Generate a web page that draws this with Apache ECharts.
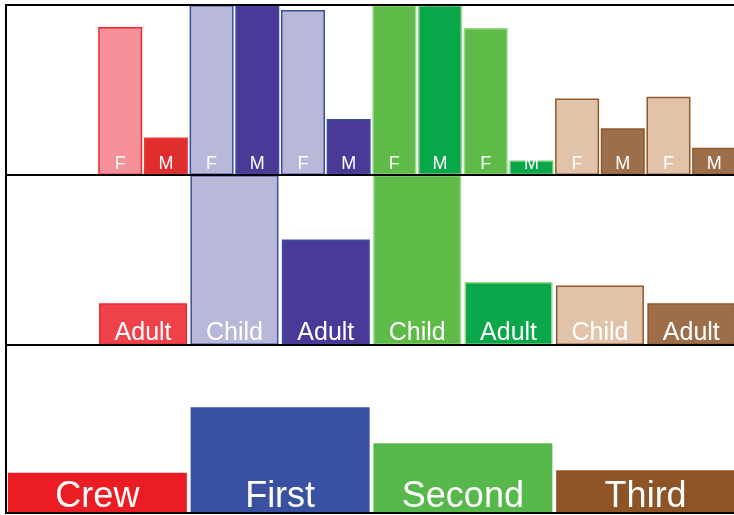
<!DOCTYPE html>
<html>
<head>
<meta charset="utf-8">
<script src="https://cdn.jsdelivr.net/npm/echarts@6/dist/echarts.min.js"></script>
<style>html,body{margin:0;padding:0;background:#fff;overflow:hidden}#c{width:740px;height:515px}</style>
</head>
<body>
<div id="c"></div>
<script>
// Level 3: class x age x sex
const sexCats = ['Crew Child F','Crew Child M','Crew Adult F','Crew Adult M',
  'First Child F','First Child M','First Adult F','First Adult M',
  'Second Child F','Second Child M','Second Adult F','Second Adult M',
  'Third Child F','Third Child M','Third Adult F','Third Adult M'];
const sexLabels = ['F','M','F','M','F','M','F','M','F','M','F','M','F','M','F','M'];
const sexValues = [null,null,0.87,0.22, 1.0,1.0,0.97,0.33, 1.0,1.0,0.865,0.085, 0.45,0.275,0.46,0.16];

// Level 2: class x age
const ageCats = ['Crew Child','Crew Adult','First Child','First Adult','Second Child','Second Adult','Third Child','Third Adult'];
const ageLabels = ['Child','Adult','Child','Adult','Child','Adult','Child','Adult'];
const ageValues = [null,0.245, 1.0,0.62, 1.0,0.37, 0.35,0.245];

// Level 1: class
const classCats = ['Crew','First','Second','Third'];
const classValues = [0.24,0.63,0.415,0.255];

// styles
const sexFill = ['#f59199','#e02e2e','#f59199','#e02e2e',
  '#bab8d9','#4a3996','#bab8d9','#4a3996',
  '#5fbb48','#0aa64a','#5fbb48','#0aa64a',
  '#e0c3a8','#9d6e4a','#e0c3a8','#9d6e4a'];
const sexBorder = ['#ee2a33','#ee2a33','#ee2a33','#ee3a3a',
  '#3a4fa0','#3a4fa0','#3a4fa0','#3a4fa0',
  '#9ad68c','#9ad68c','#9ad68c','#6ccf6c',
  '#93582a','#93582a','#93582a','#93582a'];
const ageFill = ['#f0424a','#f0424a','#bab8d9','#4a3996','#5fbb48','#0aa64a','#e0c3a8','#9d6e4a'];
const ageBorder = ['#ee2a33','#ee2a33','#3a4fa0','#3a4fa0','#9ad68c','#9ad68c','#93582a','#93582a'];
const classFill = ['#ec1c24','#3a51a2','#56b84a','#8f5426'];

const chart = echarts.init(document.getElementById('c'));
const FONT = '"Liberation Sans", Arial, sans-serif';

function mk(values, labels, fill, border) {
  return values.map((v, i) => ({
    value: v,
    name: labels[i],
    itemStyle: { color: fill[i], borderColor: border ? border[i] : fill[i], borderWidth: border ? 1.5 : 0 }
  }));
}

const grids = [
  { left: 6, width: 731, top: 5, height: 170, outerBoundsMode: 'none' },
  { left: 6, width: 731, top: 175, height: 170, outerBoundsMode: 'none' },
  { left: 6, width: 731, top: 345, height: 168, outerBoundsMode: 'none' }
];
const axisLine = { show: true, lineStyle: { color: '#000', width: 2 } };
const cats = [sexCats, ageCats, classCats];

const xAxis = cats.map((c, i) => ({
  type: 'category', gridIndex: i, data: c, z: 10,
  axisLine: axisLine, axisTick: { show: false }, axisLabel: { show: false }
}));
xAxis.push({ type: 'category', gridIndex: 0, data: sexCats, position: 'top', z: 10,
  axisLine: axisLine, axisTick: { show: false }, axisLabel: { show: false } });

const yAxis = [0,1,2].map(i => ({
  type: 'value', gridIndex: i, min: 0, max: 1, z: 10,
  axisLine: axisLine, axisTick: { show: false }, axisLabel: { show: false }, splitLine: { show: false }
}));

function lbl(size, d) {
  return { show: true, position: 'insideBottom', distance: d, color: '#fff',
    fontFamily: FONT, fontSize: size, formatter: p => p.name };
}

chart.setOption({
  animation: false,
  grid: grids,
  xAxis: xAxis,
  yAxis: yAxis,
  series: [
    { type: 'bar', xAxisIndex: 0, yAxisIndex: 0, barWidth: 44,
      data: mk(sexValues, sexLabels, sexFill, sexBorder), label: lbl(18, 2) },
    { type: 'bar', xAxisIndex: 1, yAxisIndex: 1, barWidth: 88,
      data: mk(ageValues, ageLabels, ageFill, ageBorder), label: lbl(25, -1) },
    { type: 'bar', xAxisIndex: 2, yAxisIndex: 2, barWidth: 179,
      data: mk(classValues, classCats, classFill, null), label: lbl(36, -2) }
  ]
});
</script>
</body>
</html>
